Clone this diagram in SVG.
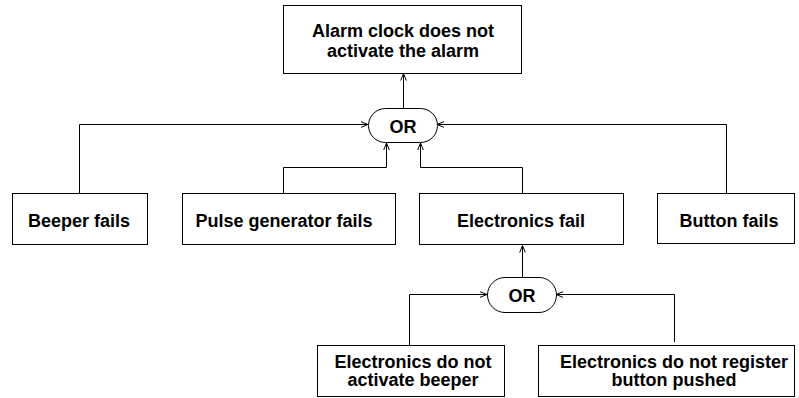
<svg xmlns="http://www.w3.org/2000/svg" width="799" height="398" viewBox="0 0 799 398">
  <style>
    .box { fill: #fff; stroke: #000; stroke-width: 1; }
    .gate { fill: #fff; stroke: #000; stroke-width: 1; }
    .label { font-family: "Liberation Sans", Arial, sans-serif; font-weight: bold; font-size: 18px; fill: #000; text-anchor: middle; }
    .wire { fill: none; stroke: #000; stroke-width: 1; marker-end: url(#arrow); }
  </style>
  <defs>
    <marker id="arrow" markerWidth="10" markerHeight="8" refX="8" refY="4" orient="auto" markerUnits="userSpaceOnUse">
      <path d="M1,1.2 L8,4 L1,6.8" fill="none" stroke="#000" stroke-width="1"/>
    </marker>
  </defs>

  <rect width="799" height="398" fill="#fff"/>

  <g id="connectors">
    <path class="wire" d="M403.5,108 V73.5"/>
    <path class="wire" d="M79.5,193 V124.5 H368"/>
    <path class="wire" d="M283.5,193 V167.5 H386.5 V143"/>
    <path class="wire" d="M522.5,193 V167.5 H420.5 V143"/>
    <path class="wire" d="M726.5,193 V124.5 H437"/>
    <path class="wire" d="M522.5,277 V245.5"/>
    <path class="wire" d="M409.5,345 V294.5 H487"/>
    <path class="wire" d="M674.5,342 V294.5 H556"/>
  </g>

  <g id="top-event">
    <rect class="box" x="283.5" y="5.5" width="238" height="68"/>
    <text class="label" x="403" y="37">Alarm clock does not</text>
    <text class="label" x="403" y="57">activate the alarm</text>
  </g>

  <g id="or-top">
    <rect class="gate" x="368.5" y="108.5" width="69" height="34" rx="17" ry="17"/>
    <text class="label" x="403" y="132.5">OR</text>
  </g>

  <g id="beeper-fails">
    <rect class="box" x="12.5" y="193.5" width="135" height="51"/>
    <text class="label" x="79" y="227">Beeper fails</text>
  </g>

  <g id="pulse-generator-fails">
    <rect class="box" x="182.5" y="193.5" width="213" height="51"/>
    <text class="label" x="284" y="227">Pulse generator fails</text>
  </g>

  <g id="electronics-fail">
    <rect class="box" x="419.5" y="193.5" width="204" height="51"/>
    <text class="label" x="521" y="227">Electronics fail</text>
  </g>

  <g id="button-fails">
    <rect class="box" x="657.5" y="193.5" width="137" height="50"/>
    <text class="label" x="729" y="227">Button fails</text>
  </g>

  <g id="or-bottom">
    <rect class="gate" x="487.5" y="277.5" width="69" height="35" rx="17.5" ry="17.5"/>
    <text class="label" x="522" y="301.5">OR</text>
  </g>

  <g id="no-beeper-activation">
    <rect class="box" x="317.5" y="345.5" width="187" height="51"/>
    <text class="label" x="413" y="367.5">Electronics do not</text>
    <text class="label" x="413" y="386">activate beeper</text>
  </g>

  <g id="no-button-registration">
    <rect class="box" x="538.5" y="345.5" width="256" height="51"/>
    <text class="label" x="674" y="367.5">Electronics do not register</text>
    <text class="label" x="674" y="386">button pushed</text>
  </g>
</svg>
